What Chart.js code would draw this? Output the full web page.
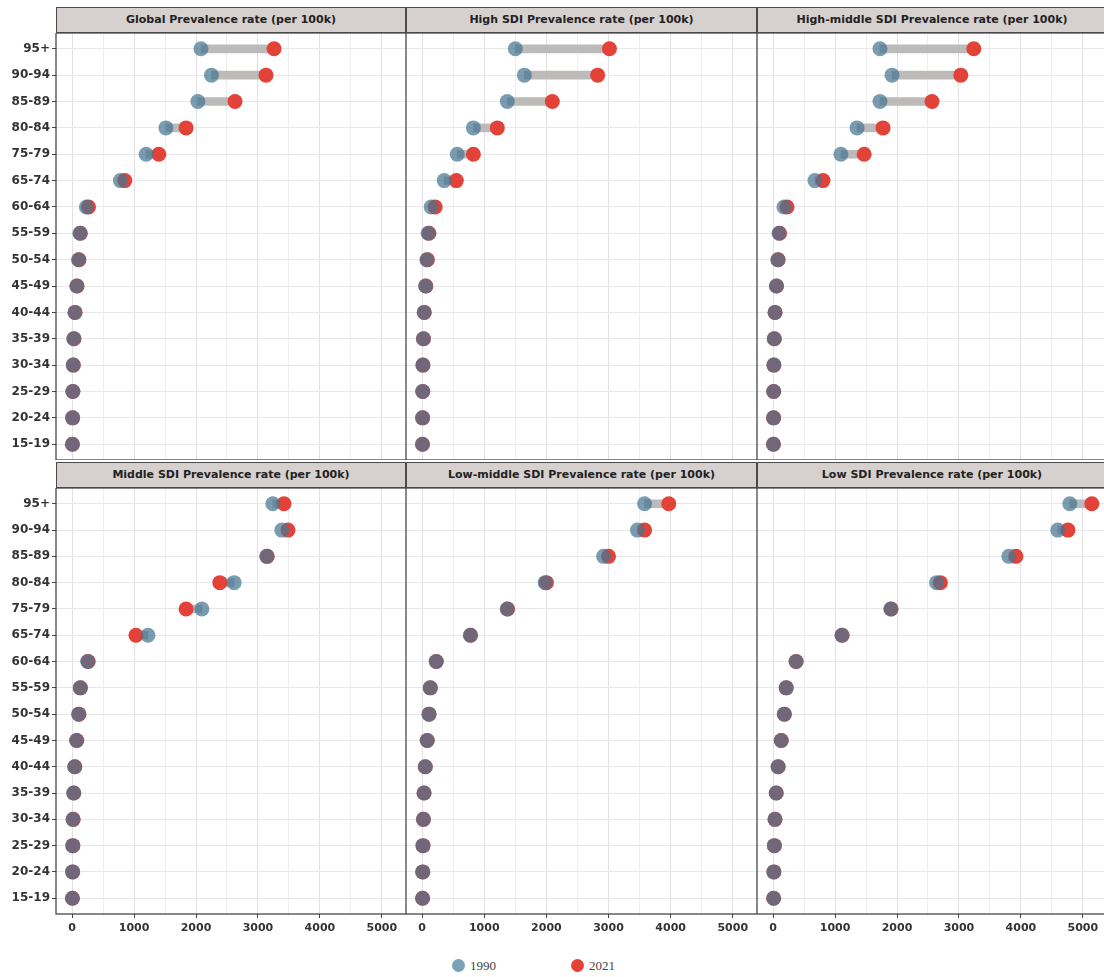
<!DOCTYPE html>
<html>
<head>
<meta charset="utf-8">
<script src="https://cdn.jsdelivr.net/npm/chart.js@4.4.1/dist/chart.umd.min.js"></script>
<style>
  body { margin: 0; background: #fff; width: 1104px; height: 977px; overflow: hidden; position: relative; }
  canvas { position: absolute; }
  .strip {
    position: absolute; height: 26px; box-sizing: border-box;
    background: #d6d0cf; border: 1px solid #4a4a4a;
    font: bold 11px "DejaVu Sans", sans-serif; color: #222;
    line-height: 24px; text-align: center; white-space: nowrap;
  }
  .legend { position: absolute; top: 958px; font: 13px "Liberation Serif", serif; color: #444; }
  .legend span.dot { display: inline-block; width: 13px; height: 13px; border-radius: 50%; vertical-align: -2px; margin-right: 5px; }
</style>
</head>
<body>
<script>
const ageGroups = ['95+', '90-94', '85-89', '80-84', '75-79', '65-74', '60-64', '55-59',
  '50-54', '45-49', '40-44', '35-39', '30-34', '25-29', '20-24', '15-19']
const xTicks = [0, 500, 1000, 1500, 2000, 2500, 3000, 3500, 4000, 4500, 5000]

// prevalence per 100k, same order as ageGroups
const global1990 = [2080, 2250, 2030, 1515, 1195, 780, 230, 125, 105, 75, 45, 28, 18, 12, 8, 5]
const global2021 = [3260, 3130, 2630, 1840, 1400, 850, 265, 135, 110, 80, 48, 30, 20, 13, 9, 6]
const high1990 = [1500, 1645, 1370, 825, 565, 355, 145, 95, 75, 55, 32, 20, 12, 9, 7, 5]
const high2021 = [3015, 2825, 2095, 1210, 825, 550, 210, 110, 85, 60, 35, 22, 13, 10, 8, 6]
const highMid1990 = [1725, 1920, 1725, 1355, 1095, 675, 175, 95, 75, 52, 30, 18, 12, 9, 7, 5]
const highMid2021 = [3240, 3030, 2565, 1775, 1470, 805, 225, 105, 82, 56, 32, 20, 13, 10, 8, 6]
const middle1990 = [3240, 3385, 3140, 2615, 2095, 1225, 250, 130, 105, 72, 42, 26, 16, 11, 8, 5]
const middle2021 = [3420, 3485, 3150, 2385, 1840, 1030, 260, 135, 110, 75, 44, 27, 17, 12, 9, 6]
const lowMid1990 = [3580, 3465, 2920, 1980, 1370, 775, 225, 130, 110, 80, 50, 30, 20, 13, 9, 6]
const lowMid2021 = [3970, 3580, 3000, 2000, 1375, 780, 228, 132, 112, 82, 51, 31, 21, 14, 10, 7]
const low1990 = [4790, 4595, 3805, 2640, 1900, 1110, 370, 210, 180, 130, 80, 50, 30, 20, 12, 8]
const low2021 = [5145, 4760, 3920, 2700, 1905, 1115, 372, 212, 182, 132, 82, 51, 31, 21, 13, 9]

const panelTitles = [
  'Global Prevalence rate (per 100k)', 'High SDI Prevalence rate (per 100k)', 'High-middle SDI Prevalence rate (per 100k)',
  'Middle SDI Prevalence rate (per 100k)', 'Low-middle SDI Prevalence rate (per 100k)', 'Low SDI Prevalence rate (per 100k)'
]
const series1990 = [global1990, high1990, highMid1990, middle1990, lowMid1990, low1990]
const series2021 = [global2021, high2021, highMid2021, middle2021, lowMid2021, low2021]

const color1990 = 'rgba(70, 118, 145, 0.72)'
const color2021 = 'rgb(226, 66, 56)'

const colLeft = [0, 406, 757]
const colWidth = [406, 351, 350]
const plotLeft = [56, 406, 757]
const rowTop = [33, 488]
const stripTop = [7, 462]

// panel border drawn on top of the plot
const framePlugin = {
  id: 'frame',
  afterDraw(chart) {
    const { ctx, chartArea: a } = chart
    ctx.save()
    ctx.strokeStyle = '#3a3a3a'
    ctx.lineWidth = 1.2
    ctx.strokeRect(a.left, a.top, a.right - a.left, a.bottom - a.top)
    ctx.restore()
  }
}

panelTitles.forEach((title, p) => {
  const row = Math.floor(p / 3)
  const col = p % 3

  const strip = document.createElement('div')
  strip.className = 'strip'
  strip.textContent = title
  strip.style.left = plotLeft[col] + 'px'
  strip.style.top = stripTop[row] + 'px'
  strip.style.width = (col === 1 ? 351 : 350) + 'px'
  document.body.appendChild(strip)

  const canvas = document.createElement('canvas')
  const h = row === 0 ? 427 : 462
  canvas.width = colWidth[col]
  canvas.height = h
  canvas.style.left = colLeft[col] + 'px'
  canvas.style.top = rowTop[row] + 'px'
  document.body.appendChild(canvas)

  const v1990 = series1990[p]
  const v2021 = series2021[p]

  new Chart(canvas.getContext('2d'), {
    type: 'line',
    data: {
      datasets: [
        {
          type: 'bar',
          label: 'change',
          indexAxis: 'y',
          data: ageGroups.map((g, i) => ({ y: i, x: [v1990[i], v2021[i]] })),
          backgroundColor: 'rgba(185, 182, 182, 0.95)',
          barThickness: 8,
          order: 3
        },
        {
          label: '1990',
          data: ageGroups.map((g, i) => ({ x: v1990[i], y: i })),
          showLine: false,
          pointRadius: 7.5,
          pointHoverRadius: 7.5,
          pointBorderWidth: 0,
          pointBackgroundColor: color1990,
          order: 1
        },
        {
          label: '2021',
          data: ageGroups.map((g, i) => ({ x: v2021[i], y: i })),
          showLine: false,
          pointRadius: 7.5,
          pointHoverRadius: 7.5,
          pointBorderWidth: 0,
          pointBackgroundColor: color2021,
          order: 2
        }
      ]
    },
    options: {
      indexAxis: 'y',
      responsive: false,
      animation: false,
      devicePixelRatio: 1,
      layout: { padding: 0, autoPadding: false },
      plugins: { legend: { display: false }, tooltip: { enabled: false } },
      scales: {
        x: {
          type: 'linear',
          min: -260,
          max: 5390,
          offset: false,
          afterBuildTicks: s => { s.ticks = xTicks.map(v => ({ value: v })) },
          afterFit: s => {
            s.height = row === 1 ? 36 : 0
            s.paddingLeft = 0
            s.paddingRight = 0
          },
          border: { display: false },
          grid: {
            color: c => c.tick && c.tick.value % 1000 === 0 ? '#e2e2e2' : '#eeeeee',
            lineWidth: 1,
            drawTicks: row === 1,
            tickLength: 4,
            tickColor: c => c.tick && c.tick.value % 1000 === 0 ? '#444' : 'rgba(0,0,0,0)'
          },
          ticks: {
            display: row === 1,
            autoSkip: false,
            maxRotation: 0,
            padding: 4,
            color: '#333',
            font: { family: 'DejaVu Sans', size: 11, weight: 'bold' },
            callback: v => v % 1000 === 0 ? String(v) : ''
          }
        },
        y: {
          type: 'linear',
          reverse: true,
          min: -0.6,
          max: ageGroups.length - 0.4,
          offset: false,
          afterBuildTicks: s => { s.ticks = ageGroups.map((g, i) => ({ value: i })) },
          afterFit: s => {
            s.width = col === 0 ? 56 : 0
            s.paddingTop = 0
            s.paddingBottom = 0
          },
          border: { display: false },
          grid: {
            color: '#e8e8e8',
            lineWidth: 1,
            offset: false,
            drawTicks: col === 0,
            tickLength: 4,
            tickColor: '#444'
          },
          ticks: {
            display: col === 0,
            autoSkip: false,
            padding: 2,
            color: '#333',
            font: { family: 'DejaVu Sans', size: 12, weight: 'bold' },
            callback: v => ageGroups[v] || ''
          }
        }
      }
    },
    plugins: [framePlugin]
  })
})

// legend below the panels
const legend = document.createElement('div')
legend.className = 'legend'
legend.style.left = '452px'
legend.innerHTML = '<span class="dot" style="background:rgba(100,145,170,0.85)"></span>1990' +
  '<span style="display:inline-block;width:75px"></span>' +
  '<span class="dot" style="background:' + color2021 + '"></span>2021'
document.body.appendChild(legend)
</script>
</body>
</html>
